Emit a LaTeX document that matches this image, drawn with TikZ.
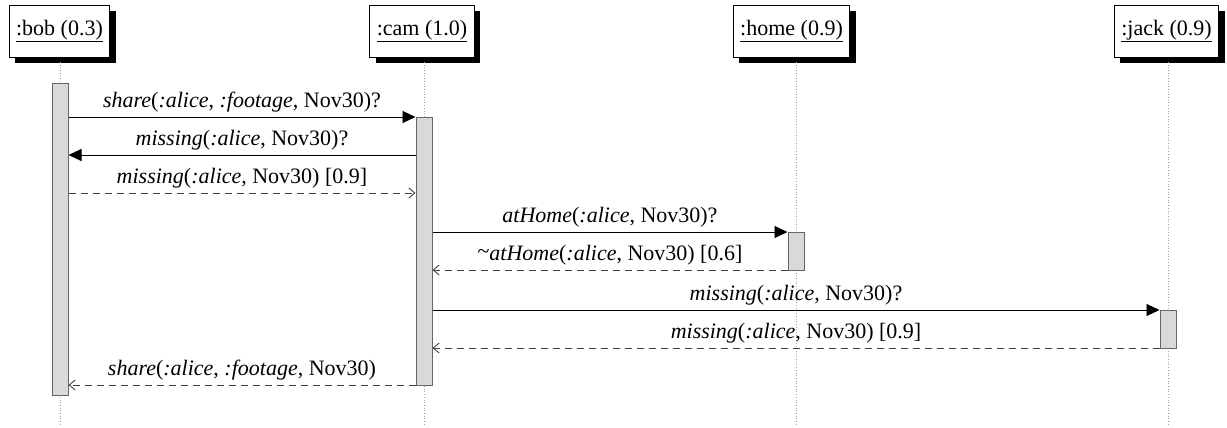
\documentclass[tikz,border=0pt]{standalone}
\usepackage{fontspec}
\setmainfont{Liberation Serif}
\usetikzlibrary{arrows.meta,shadows}
\begin{document}
\begin{tikzpicture}[x=1pt,y=-1pt,
  font=\fontsize{22}{26}\selectfont,
  head/.style={draw=black,fill=white,line width=0.9pt,inner xsep=7pt,minimum height=52pt,
    general shadow={fill=black,shadow xshift=6pt,shadow yshift=-6pt}},
  life/.style={draw=gray!70,dotted,line width=0.7pt},
  act/.style={draw=black!60,fill=black!15,line width=1pt,minimum width=16pt,inner sep=0pt},
  call/.style={draw=black,line width=0.9pt,-{Triangle[length=13pt,width=12pt]}},
  reply/.style={draw=black!75,dashed,dash pattern=on 7pt off 5pt,line width=0.9pt,-{Straight Barb[length=6pt,width=10pt]}},
  lab/.style={anchor=south,inner sep=4pt}]
\useasboundingbox (0,0) rectangle (1227,428);
% heads
\node[head] (bob) at (59.5,31) {\underline{:bob (0.3)}};
\node[head] (cam) at (422,31) {\underline{:cam (1.0)}};
\node[head] (home) at (791.5,31) {\underline{:home (0.9)}};
\node[head] (jack) at (1166.5,31) {\underline{:jack (0.9)}};
% lifelines
\coordinate (lb) at (60,62); \coordinate (lc) at (424,62);
\coordinate (lh) at (796,62); \coordinate (lj) at (1168,62);
\draw[life] (lb) -- (lb |- 0,424);
\draw[life] (lc) -- (lc |- 0,424);
\draw[life] (lh) -- (lh |- 0,424);
\draw[life] (lj) -- (lj |- 0,424);
% activations
\node[act,minimum height=312pt] (abob) at (60,239.5) {};
\node[act,minimum height=268pt] (acam) at (424,251) {};
\node[act,minimum height=38pt] (ahome) at (796,251) {};
\node[act,minimum height=38pt] (ajack) at (1168,329) {};
% messages
\draw[call] (abob.east |- 0,117) -- node[lab]{\textit{share}(\textit{:alice}, \textit{:footage}, Nov30)?} (acam.west |- 0,117);
\draw[call] (acam.west |- 0,155) -- node[lab]{\textit{missing}(\textit{:alice}, Nov30)?} (abob.east |- 0,155);
\draw[reply] (abob.east |- 0,193) -- node[lab]{\textit{missing}(\textit{:alice}, Nov30) [0.9]} (acam.west |- 0,193);
\draw[call] (acam.east |- 0,232) -- node[lab]{\textit{atHome}(\textit{:alice}, Nov30)?} (ahome.west |- 0,232);
\draw[reply] (ahome.west |- 0,270) -- node[lab]{\raisebox{0.2ex}{\char`\~}\textit{atHome}(\textit{:alice}, Nov30) [0.6]} (acam.east |- 0,270);
\draw[call] (acam.east |- 0,310) -- node[lab]{\textit{missing}(\textit{:alice}, Nov30)?} (ajack.west |- 0,310);
\draw[reply] (ajack.west |- 0,348) -- node[lab]{\textit{missing}(\textit{:alice}, Nov30) [0.9]} (acam.east |- 0,348);
\draw[reply] (acam.west |- 0,385) -- node[lab]{\textit{share}(\textit{:alice}, \textit{:footage}, Nov30)} (abob.east |- 0,385);
\end{tikzpicture}
\end{document}
